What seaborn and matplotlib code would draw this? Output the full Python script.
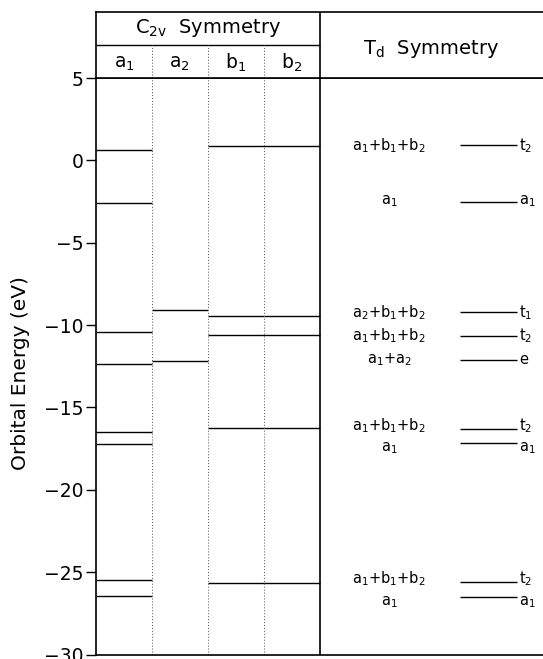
import numpy as np
import matplotlib
matplotlib.use("Agg")
import matplotlib.pyplot as plt
import seaborn as sns

# C2v orbital energies (eV)
a1_levels = [0.62, -2.58, -10.4, -12.35, -16.47, -17.2, -25.5, -26.45]
a2_levels = [-9.1, -12.2]
b_levels = [0.9, -9.47, -10.6, -16.23, -25.67]   # b1 and b2 are degenerate

# Td correlation
td_levels = [0.92, -2.5, -9.22, -10.64, -12.1, -16.33, -17.16, -25.6, -26.5]
td_names = ['t_2', 'a_1', 't_1', 't_2', 'e', 't_2', 'a_1', 't_2', 'a_1']
td_from = ['a_1{+}b_1{+}b_2', 'a_1', 'a_2{+}b_1{+}b_2', 'a_1{+}b_1{+}b_2', 'a_1{+}a_2',
           'a_1{+}b_1{+}b_2', 'a_1', 'a_1{+}b_1{+}b_2', 'a_1']

columns = ['a_1', 'a_2', 'b_1', 'b_2']
yticks = [5, 0, -5, -10, -15, -20, -25, -30]

sns.set_theme(style="ticks")
plt.rcParams['font.family'] = ['DejaVu Sans']
plt.rcParams['mathtext.default'] = 'regular'
plt.rcParams['text.color'] = 'black'
plt.rcParams['axes.labelcolor'] = 'black'
plt.rcParams['ytick.color'] = 'black'

W, H = 543, 659
fig = plt.figure(figsize=(W / 100, H / 100), dpi=100)

ax = fig.add_axes([96 / W, 4.5 / H, 447 / W, (654.5 - 78) / H])
hd = fig.add_axes([96 / W, 1 - 78 / H, 447 / W, 66 / H])

lc = 'black'
lw = 1.0

# main panel
ax.hlines(a1_levels, 0, 1, color=lc, lw=lw)
ax.hlines(a2_levels, 1, 2, color=lc, lw=lw)
ax.hlines(b_levels, 2, 4, color=lc, lw=lw)
ax.hlines(td_levels, 6.51, 7.53, color=lc, lw=lw)
for i, (y, n, f) in enumerate(zip(td_levels, td_names, td_from)):
    # spread labels of closely spaced levels a little
    ty = y
    if i > 0 and td_levels[i - 1] - y < 1.2:
        ty = y - 0.3
    elif i < len(td_levels) - 1 and y - td_levels[i + 1] < 1.2:
        ty = y + 0.2
    ax.text(7.57, ty, '$' + n + '$', ha='left', va='center', fontsize=10.5)
    ax.text(5.25, ty, '$' + f + '$', ha='center', va='center', fontsize=10.5)

for x in [1, 2, 3]:
    ax.axvline(x, color='dimgray', lw=0.8, ls=':')
ax.axvline(4, color=lc, lw=1.2)

ax.set_xlim(0, 8)
ax.set_ylim(-30, 5)
ax.set_xticks([])
ax.set_yticks(yticks)
ax.set_yticklabels([str(t).replace('-', '\u2212') for t in yticks], fontsize=13.5)
ax.tick_params(axis='y', direction='out', length=7, width=1, pad=2, colors='black')
for s in ['left', 'top', 'bottom']:
    ax.spines[s].set_color('black')
    ax.spines[s].set_linewidth(1.2)
ax.spines['right'].set_visible(False)
fig.text(0.038, (659 - 373) / H, 'Orbital Energy (eV)', rotation=90,
         ha='center', va='center', fontsize=14.5)

# header panel
hd.set_xlim(0, 8)
hd.set_ylim(0, 66)
hd.set_xticks([])
hd.set_yticks([])
hd.hlines(33, 0, 4, color=lc, lw=1.0)
hd.vlines([1, 2, 3], 0, 33, color='dimgray', lw=0.8, ls=':')
hd.axvline(4, color=lc, lw=1.2)
for s in ['left', 'top', 'bottom']:
    hd.spines[s].set_color('black')
    hd.spines[s].set_linewidth(1.2)
hd.spines['right'].set_visible(False)
hd.text(2, 50, 'C$_{2v}$  Symmetry', ha='center', va='center', fontsize=14)
hd.text(6, 29, 'T$_d$  Symmetry', ha='center', va='center', fontsize=14)
for i, c in enumerate(columns):
    hd.text(i + 0.5, 15, '$' + c + '$', ha='center', va='center', fontsize=13.5)

fig.savefig('out.png', dpi=100)
